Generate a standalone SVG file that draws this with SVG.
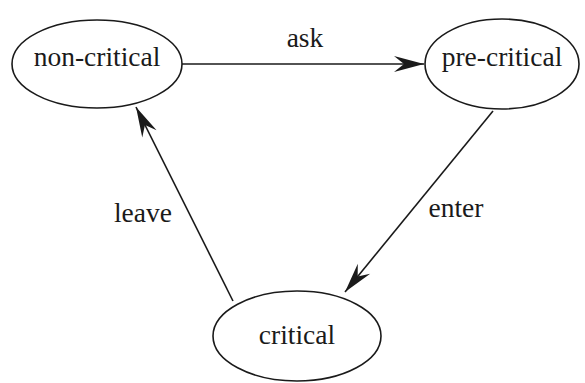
<svg xmlns="http://www.w3.org/2000/svg" width="585" height="383" viewBox="0 0 585 383">
  <style>
    .state { fill: none; stroke: #1a1a1a; stroke-width: 1.6; }
    .edge { fill: none; stroke: #1a1a1a; stroke-width: 1.6; }
    .label { font-family: 'Liberation Serif', 'Times New Roman', Times, serif; font-size: 27.5px; fill: #1a1a1a; text-anchor: middle; }
  </style>
  <defs>
    <marker id="arrow" viewBox="-31 -9 32 18" refX="0" refY="0" markerWidth="32" markerHeight="18" markerUnits="userSpaceOnUse" orient="auto">
      <path d="M0,0 L-30,-8 L-20,0 L-30,8 Z" fill="#1a1a1a"/>
    </marker>
  </defs>
  <rect width="585" height="383" fill="#ffffff"/>

  <g id="non-critical">
    <ellipse class="state" cx="97" cy="64" rx="85" ry="44"/>
    <text class="label" x="97" y="66">non-critical</text>
  </g>
  <g id="pre-critical">
    <ellipse class="state" cx="502" cy="64" rx="77" ry="45"/>
    <text class="label" x="502" y="66">pre-critical</text>
  </g>
  <g id="critical">
    <ellipse class="state" cx="297" cy="336" rx="84" ry="45"/>
    <text class="label" x="297" y="344">critical</text>
  </g>

  <g id="connectors">
    <line class="edge" x1="182" y1="64" x2="424" y2="64" marker-end="url(#arrow)"/>
    <line class="edge" x1="493" y1="111" x2="345" y2="292" marker-end="url(#arrow)"/>
    <line class="edge" x1="233" y1="301" x2="136" y2="107" marker-end="url(#arrow)"/>
    <text class="label" x="305" y="47">ask</text>
    <text class="label" x="456" y="217">enter</text>
    <text class="label" x="143" y="222">leave</text>
  </g>
</svg>
